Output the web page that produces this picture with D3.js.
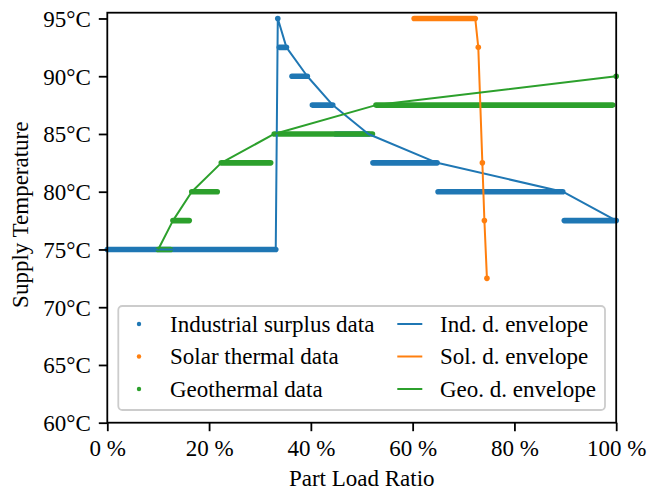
<!DOCTYPE html>
<html>
<head>
<meta charset="utf-8">
<script src="https://cdn.jsdelivr.net/npm/d3@7"></script>
<style>
  body { margin: 0; background: #fff; }
  svg { display: block; }
  text { font-family: "Liberation Serif", "Times New Roman", serif; fill: #000; }
</style>
</head>
<body>
<svg id="chart" width="649" height="494"></svg>
<script>
// Axis ticks
const xTicks = [0, 20, 40, 60, 80, 100];          // part load ratio, %
const yTicks = [60, 65, 70, 75, 80, 85, 90, 95];  // supply temperature, °C

// Sampled operating data. Dense sample runs at one temperature:
// [temperature °C, first part load %, last part load %]
const industrialRuns = [
  [75,   0.0, 33.1],
  [92.5, 33.8, 35.2],
  [90,   36.3, 39.3],
  [87.5, 40.3, 44.3],
  [85,   44.9, 51.3],
  [82.5, 52.2, 64.8],
  [80,   65.0, 89.5],
  [77.5, 89.8, 100.0]
];
// Isolated samples: [part load %, temperature °C]
const industrialPoints = [[33.5, 95]];

const solarRuns = [
  [95, 60.3, 72.3]
];
const solarPoints = [[72.9, 92.5], [73.7, 82.5], [74.1, 77.5], [74.6, 72.5]];

const geoRuns = [
  [75,   10.0, 12.4],
  [77.5, 12.9, 16.1],
  [80,   16.6, 21.6],
  [82.5, 22.4, 32.1],
  [85,   32.8, 52.1],
  [87.5, 52.8, 99.3]
];
const geoPoints = [[100, 90]];

// Supply temperature envelopes: [part load %, temperature °C]
const industrialEnvelope = [
  [0, 75], [33.1, 75], [33.5, 95], [35.2, 92.5], [39.3, 90],
  [44.3, 87.5], [51.3, 85], [64.8, 82.5], [89.5, 80], [100, 77.5]
];
const solarEnvelope = [
  [60.3, 95], [72.3, 95], [72.9, 92.5], [73.7, 82.5], [74.1, 77.5], [74.6, 72.5]
];
const geoEnvelope = [
  [10.0, 75], [12.9, 77.5], [16.6, 80], [22.4, 82.5], [32.8, 85], [52.8, 87.5], [100, 90]
];

const seriesNames = ["Industrial surplus data", "Solar thermal data", "Geothermal data"];
const envelopeNames = ["Ind. d. envelope", "Sol. d. envelope", "Geo. d. envelope"];
const colors = ["#1f77b4", "#ff7f0e", "#2ca02c"];

// Layout
const svg = d3.select("#chart");
const plot = { left: 107.3, right: 616.2, top: 12.7, bottom: 422.7 };
const FONT = 23;
const DOT_R = 2.8;

const x = d3.scaleLinear().domain([0, 100]).range([plot.left, plot.right]);
const y = d3.scaleLinear().domain([60, 95.5]).range([plot.bottom, plot.top]);

// Data (drawn first so the envelopes sit on top)
const dataSets = [
  { runs: industrialRuns, points: industrialPoints },
  { runs: solarRuns, points: solarPoints },
  { runs: geoRuns, points: geoPoints }
];
dataSets.forEach((ds, i) => {
  const g = svg.append("g").attr("class", "data-" + i);
  g.selectAll("line.run").data(ds.runs).join("line")
    .attr("class", "run")
    .attr("x1", d => x(d[1])).attr("x2", d => x(d[2]))
    .attr("y1", d => y(d[0])).attr("y2", d => y(d[0]))
    .attr("stroke", colors[i])
    .attr("stroke-width", DOT_R * 2)
    .attr("stroke-linecap", "round");
  g.selectAll("circle").data(ds.points).join("circle")
    .attr("cx", d => x(d[0])).attr("cy", d => y(d[1]))
    .attr("r", DOT_R)
    .attr("fill", colors[i]);
});

// Envelopes
const line = d3.line().x(d => x(d[0])).y(d => y(d[1]));
[industrialEnvelope, solarEnvelope, geoEnvelope].forEach((env, i) => {
  svg.append("path")
    .attr("d", line(env))
    .attr("fill", "none")
    .attr("stroke", colors[i])
    .attr("stroke-width", 2)
    .attr("stroke-linejoin", "round");
});

// Axes
const xAxis = d3.axisBottom(x).tickValues(xTicks).tickFormat(d => d + " %")
  .tickSizeInner(8.5).tickSizeOuter(0).tickPadding(6);
const yAxis = d3.axisLeft(y).tickValues(yTicks).tickFormat(d => d + "°C")
  .tickSizeInner(8.5).tickSizeOuter(0).tickPadding(6);

const gx = svg.append("g").attr("transform", `translate(0,${plot.bottom})`).call(xAxis);
const gy = svg.append("g").attr("transform", `translate(${plot.left},0)`).call(yAxis);
[gx, gy].forEach(g => {
  g.select(".domain").remove();
  g.selectAll(".tick line").attr("stroke", "#000").attr("stroke-width", 1.8);
  g.selectAll(".tick text")
    .style("font-family", '"Liberation Serif", "Times New Roman", serif')
    .style("font-size", FONT + "px")
    .attr("fill", "#000");
});
gx.selectAll(".tick text").attr("dy", null).attr("y", 33.8);
gy.selectAll(".tick text").attr("dy", "0.34em").attr("x", -16.5);

// Frame
svg.append("rect")
  .attr("x", plot.left).attr("y", plot.top)
  .attr("width", plot.right - plot.left).attr("height", plot.bottom - plot.top)
  .attr("fill", "none").attr("stroke", "#000").attr("stroke-width", 1.8);

// Axis titles
svg.append("text")
  .attr("x", (plot.left + plot.right) / 2).attr("y", 486)
  .attr("text-anchor", "middle").style("font-size", FONT + "px")
  .text("Part Load Ratio");
svg.append("text")
  .attr("transform", `translate(27.5,${(plot.top + plot.bottom) / 2 - 3}) rotate(-90)`)
  .attr("text-anchor", "middle").style("font-size", FONT + "px")
  .text("Supply Temperature");

// Legend
const legend = svg.append("g").attr("class", "legend");
legend.append("rect")
  .attr("x", 118.3).attr("y", 306).attr("width", 486.7).attr("height", 104)
  .attr("rx", 4).attr("ry", 4)
  .attr("fill", "#fff").attr("fill-opacity", 0.8)
  .attr("stroke", "#cccccc").attr("stroke-width", 1.8);

const rowY = [324, 356.5, 389];
seriesNames.forEach((name, i) => {
  legend.append("circle").attr("cx", 139).attr("cy", rowY[i]).attr("r", 2.2).attr("fill", colors[i]);
  legend.append("text").attr("x", 170).attr("y", rowY[i] + 7.6)
    .style("font-size", FONT + "px").text(name);
});
envelopeNames.forEach((name, i) => {
  legend.append("line")
    .attr("x1", 397.3).attr("x2", 422.3).attr("y1", rowY[i]).attr("y2", rowY[i])
    .attr("stroke", colors[i]).attr("stroke-width", 2);
  legend.append("text").attr("x", 440).attr("y", rowY[i] + 7.6)
    .style("font-size", FONT + "px").text(name);
});
</script>
</body>
</html>
